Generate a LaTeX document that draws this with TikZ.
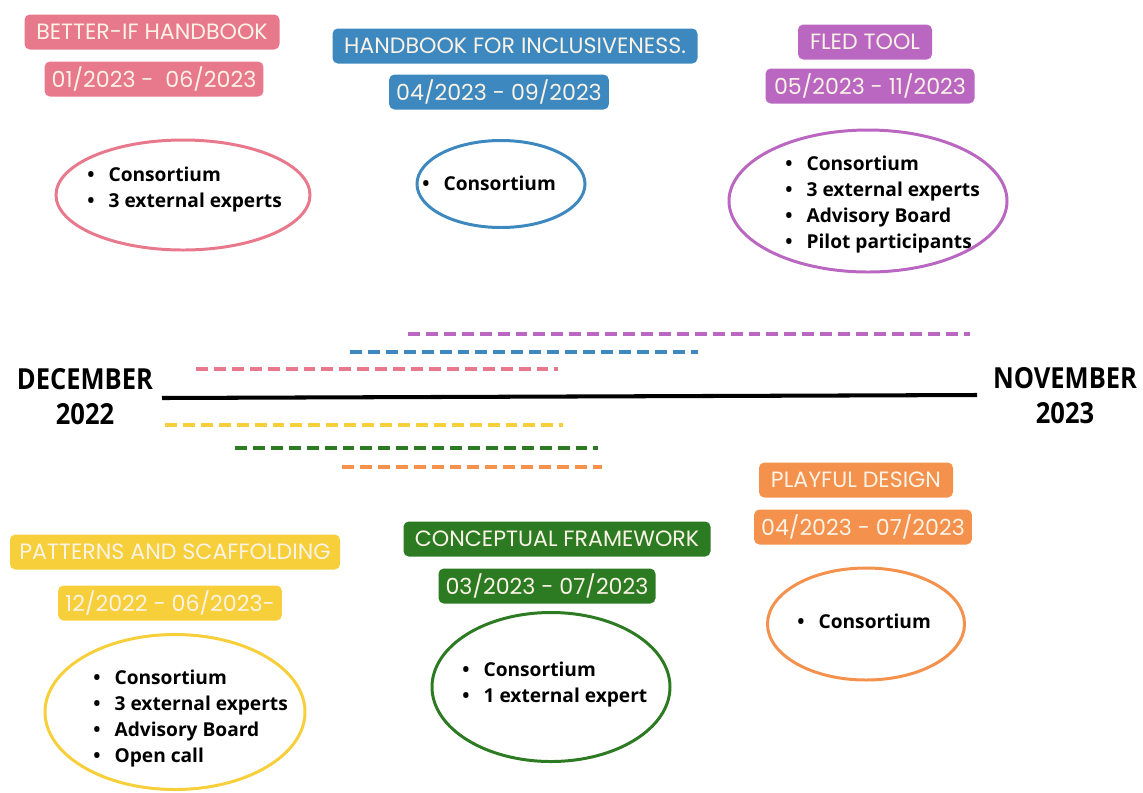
\documentclass[tikz,border=0pt]{standalone}
\usepackage{fontspec}
\setmainfont{Open Sans}
\newfontfamily\tagfont{Poppins}
\newfontfamily\monthfont[FakeStretch=0.88]{Open Sans}
\usetikzlibrary{shapes.geometric}

\definecolor{hbpink}{HTML}{E8798D}
\definecolor{hbblue}{HTML}{3C88BF}
\definecolor{hbpurple}{HTML}{B967C1}
\definecolor{hbyellow}{HTML}{F6CF3A}
\definecolor{hbgreen}{HTML}{2C7B23}
\definecolor{hborange}{HTML}{F4914C}
\definecolor{tagtext}{HTML}{FBF3E6}

\tikzset{
  tag/.style={fill=#1, text=tagtext, rounded corners=3pt, minimum height=0.7cm,
    inner xsep=4pt, inner ysep=0pt, font=\tagfont\fontsize{12.6}{14}\selectfont},
  bubble/.style={draw=#1, line width=1.7pt, ellipse, inner sep=0pt},
  items/.style={anchor=west, align=left, inner sep=0pt,
    font=\bfseries\fontsize{10.9}{14.8}\selectfont},
  span/.style={draw=#1, line width=2.3pt, dash pattern=on 6.8pt off 3.4pt},
  month/.style={align=center, inner sep=0pt, font=\monthfont\bfseries\fontsize{16.5}{20}\selectfont}
}
\newcommand{\itm}{\textbullet\hspace{8pt}}

\begin{document}
\begin{tikzpicture}[x=0.02cm,y=-0.02cm]
        \useasboundingbox (0,0) rectangle (1143,792);
        %% Time axis
        \node[month] (dec) at (85,397) {DECEMBER\\2022};
        \node[month] (nov) at (1065,396) {NOVEMBER\\2023};
        \coordinate (axisl) at (162,398);
        \coordinate (axisr) at (977,395);
        \draw[line width=2.3pt] (axisl) -- (axisr);
        %% Phases above the axis
        \draw[span=hbpurple] (408,334) -- (970,334);
        \draw[span=hbblue] (350,352) -- (698,352);
        \draw[span=hbpink] (196,369) -- (558,369);
        %% Phases below the axis
        \draw[span=hbyellow] (165,425) -- (563,425);
        \draw[span=hbgreen] (235,448) -- (598,448);
        \draw[span=hborange] (342,467) -- (602,467);

        %% Better-if handbook
        \node[tag=hbpink, minimum width=255*0.02cm] (pinktitle) at (152,32) {BETTER-IF HANDBOOK};
        \node[tag=hbpink, minimum width=215*0.02cm] (pinkdate) at (154,79) {01/2023 -\ \ 06/2023};
        \node[bubble=hbpink, minimum width=254*0.02cm, minimum height=110*0.02cm] (pinkbub) at (183,195) {};
        \node[items] (pinklist) at (87,190) {\itm Consortium\\\itm 3 external experts};

        %% Handbook for inclusiveness
        \node[tag=hbblue, minimum width=365*0.02cm] (bluetitle) at (515,46) {HANDBOOK FOR INCLUSIVENESS.};
        \node[tag=hbblue, minimum width=215*0.02cm] (bluedate) at (499,92) {04/2023 - 09/2023};
        \node[bubble=hbblue, minimum width=168*0.02cm, minimum height=87*0.02cm] (bluebub) at (501,184) {};
        \node[items] (bluelist) at (422,183) {\itm Consortium};

        %% FLED tool
        \node[tag=hbpurple, minimum width=134*0.02cm] (purpletitle) at (865,42) {FLED TOOL};
        \node[tag=hbpurple, minimum width=209*0.02cm] (purpledate) at (870,86) {05/2023 - 11/2023};
        \node[bubble=hbpurple, minimum width=278*0.02cm, minimum height=142*0.02cm] (purplebub) at (868,201) {};
        \node[items] (purplelist) at (785,205) {\itm Consortium\\\itm 3 external experts\\\itm Advisory Board\\\itm Pilot participants};

        %% Patterns and scaffolding
        \node[tag=hbyellow, minimum width=330*0.02cm] (yellowtitle) at (175,552) {PATTERNS AND SCAFFOLDING};
        \node[tag=hbyellow, minimum width=219*0.02cm] (yellowdate) at (170,603) {12/2022 - 06/2023-};
        \node[bubble=hbyellow, minimum width=260*0.02cm, minimum height=155*0.02cm] (yellowbub) at (175,712) {};
        \node[items] (yellowlist) at (93,719) {\itm Consortium\\\itm 3 external experts\\\itm Advisory Board\\\itm Open call};

        %% Conceptual framework
        \node[tag=hbgreen, minimum width=307*0.02cm] (greentitle) at (557,539) {CONCEPTUAL FRAMEWORK};
        \node[tag=hbgreen, minimum width=217*0.02cm] (greendate) at (547,586) {03/2023 - 07/2023};
        \node[bubble=hbgreen, minimum width=238*0.02cm, minimum height=149*0.02cm] (greenbub) at (551,687) {};
        \node[items] (greenlist) at (462,685) {\itm Consortium\\\itm 1 external expert};

        %% Playful design
        \node[tag=hborange, minimum width=194*0.02cm] (orangetitle) at (856,480) {PLAYFUL DESIGN};
        \node[tag=hborange, minimum width=210*0.02cm] (orangedate) at (863,527) {04/2023 - 07/2023};
        \node[bubble=hborange, minimum width=197*0.02cm, minimum height=112*0.02cm] (orangebub) at (866,624) {};
        \node[items] (orangelist) at (797,621) {\itm Consortium};
    \end{tikzpicture}
\end{document}
